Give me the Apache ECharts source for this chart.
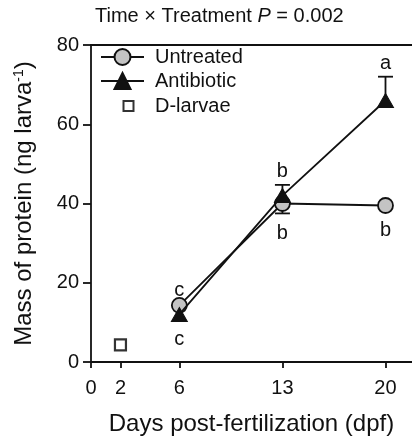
<!DOCTYPE html>
<html>
<head>
<meta charset="utf-8">
<script src="https://cdn.jsdelivr.net/npm/echarts@6/dist/echarts.min.js"></script>
<style>
html, body { margin: 0; padding: 0; background: #fff; }
#chart { width: 412px; height: 441px; }
</style>
</head>
<body>
<div id="chart"></div>
<script>
// data
var days = [6, 13, 20];
var untreated = [14.3, 40, 39.5];
var antibiotic = [12, 42, 66];
// only one side of each error bar shows in the figure (+ up, - down)
var untreatedErr = [0, -2.5, 0];
var antibioticErr = [0, 2.7, 6];
var untreatedLetters = ['c', 'b', 'b'];
var untreatedLetterSide = ['top', 'bottom', 'bottom'];
var antibioticLetters = ['c', 'b', 'a'];
var antibioticLetterSide = ['bottom', 'top', 'top'];
var dLarvaeDay = [2];
var dLarvae = [4.3];
var xTicks = [0, 2, 6, 13, 20];

var FONT = '"Liberation Sans", Arial, sans-serif';
var INK = '#111';

function pairs(xs, ys) {
    return xs.map(function (x, i) { return [x, ys[i]]; });
}

// error bar + significance letter for each point of a series
function annoSeries(ys, errs, letters, sides) {
    return {
        type: 'custom',
        z: 1,
        silent: true,
        data: pairs(days, ys),
        renderItem: function (params, api) {
            var i = params.dataIndex;
            var p = api.coord([days[i], ys[i]]);
            var tip = api.coord([days[i], ys[i] + errs[i]]);
            var kids = [];
            if (errs[i] !== 0) {
                kids.push({ type: 'line', shape: { x1: p[0], y1: p[1], x2: tip[0], y2: tip[1] },
                    style: { stroke: INK, lineWidth: 1.8 } });
                kids.push({ type: 'line', shape: { x1: tip[0] - 7.5, y1: tip[1], x2: tip[0] + 7.5, y2: tip[1] },
                    style: { stroke: INK, lineWidth: 1.8 } });
            }
            var up = sides[i] === 'top';
            var onBar = errs[i] !== 0 && (errs[i] > 0) === up;
            var anchor = onBar ? tip : p;
            var gap = onBar ? (up ? 13 : 20) : (up ? 15 : 25);
            kids.push({ type: 'text', x: anchor[0], y: anchor[1] + (up ? -gap : gap),
                style: { text: letters[i], fill: INK, font: '20px ' + FONT, align: 'center', verticalAlign: 'middle' } });
            return { type: 'group', children: kids };
        }
    };
}

var myChart = echarts.init(document.getElementById('chart'));
var option = {
    animation: false,
    title: {
        text: '{t|Time × Treatment }{p|P}{t| = 0.002}',
        left: 95,
        top: 6,
        padding: 0,
        textStyle: {
            rich: {
                t: { fontSize: 20, fontFamily: FONT, color: INK, fontWeight: 'normal' },
                p: { fontSize: 20, fontFamily: FONT, color: INK, fontWeight: 'normal', fontStyle: 'italic' }
            }
        }
    },
    legend: {
        orient: 'vertical',
        left: 100,
        top: 47,
        padding: 0,
        itemWidth: 43,
        itemHeight: 20,
        itemGap: 4,
        textStyle: { fontSize: 20, fontFamily: FONT, color: INK, lineHeight: 20, padding: [0, 0, 0, 6] },
        data: [
            { name: 'Untreated' },
            { name: 'Antibiotic' },
            {
                name: 'D-larvae',
                icon: 'path://M0,0M32,20M17,5h10v10h-10z',
                itemStyle: { color: '#fff', borderColor: '#000', borderWidth: 2 }
            }
        ]
    },
    grid: {
        left: 91,
        top: 45,
        bottom: 79,
        right: 0
    },
    xAxis: [{
        type: 'value',
        min: 0,
        max: 21.8,
        name: 'Days post-fertilization (dpf)',
        nameLocation: 'middle',
        nameGap: 50,
        nameTextStyle: { fontSize: 24, fontFamily: FONT, color: INK },
        axisLine: { lineStyle: { color: INK, width: 1.8 } },
        axisTick: { length: 6, lineStyle: { color: INK, width: 1.8 }, customValues: xTicks },
        axisLabel: { fontSize: 20, fontFamily: FONT, color: INK, margin: 16, customValues: xTicks },
        splitLine: { show: false }
    }, {
        // top frame line only
        type: 'value',
        position: 'top',
        min: 0,
        max: 21.8,
        axisLine: { show: true, lineStyle: { color: INK, width: 1.8 } },
        axisTick: { show: false },
        axisLabel: { show: false },
        splitLine: { show: false }
    }],
    yAxis: {
        type: 'value',
        min: 0,
        max: 80,
        interval: 20,
        name: '{t|Mass of protein (ng larva}{s|-1}{t|)}',
        nameLocation: 'middle',
        nameGap: 55,
        nameTextStyle: {
            rich: {
                t: { fontSize: 24, fontFamily: FONT, color: INK },
                s: { fontSize: 14, fontFamily: FONT, color: INK, verticalAlign: 'top' }
            }
        },
        axisLine: { show: true, lineStyle: { color: INK, width: 1.8 } },
        axisTick: { show: true, length: 8, lineStyle: { color: INK, width: 1.8 } },
        axisLabel: { fontSize: 20, fontFamily: FONT, color: INK, margin: 12 },
        splitLine: { show: false }
    },
    series: [
        annoSeries(untreated, untreatedErr, untreatedLetters, untreatedLetterSide),
        annoSeries(antibiotic, antibioticErr, antibioticLetters, antibioticLetterSide),
        {
            name: 'Untreated',
            type: 'line',
            z: 3,
            data: pairs(days, untreated),
            symbol: 'circle',
            symbolSize: 15,
            lineStyle: { color: INK, width: 1.8 },
            itemStyle: { color: '#c4c4c4', borderColor: INK, borderWidth: 1.8 }
        },
        {
            name: 'Antibiotic',
            type: 'line',
            z: 4,
            data: pairs(days, antibiotic),
            symbol: 'triangle',
            symbolSize: [16, 14],
            lineStyle: { color: INK, width: 1.8 },
            itemStyle: { color: INK, borderColor: INK, borderWidth: 1 }
        },
        {
            name: 'D-larvae',
            type: 'scatter',
            data: pairs(dLarvaeDay, dLarvae),
            symbol: 'rect',
            symbolSize: 11,
            itemStyle: { color: '#fff', borderColor: '#000', borderWidth: 2.2 }
        }
    ]
};
myChart.setOption(option);
</script>
</body>
</html>
